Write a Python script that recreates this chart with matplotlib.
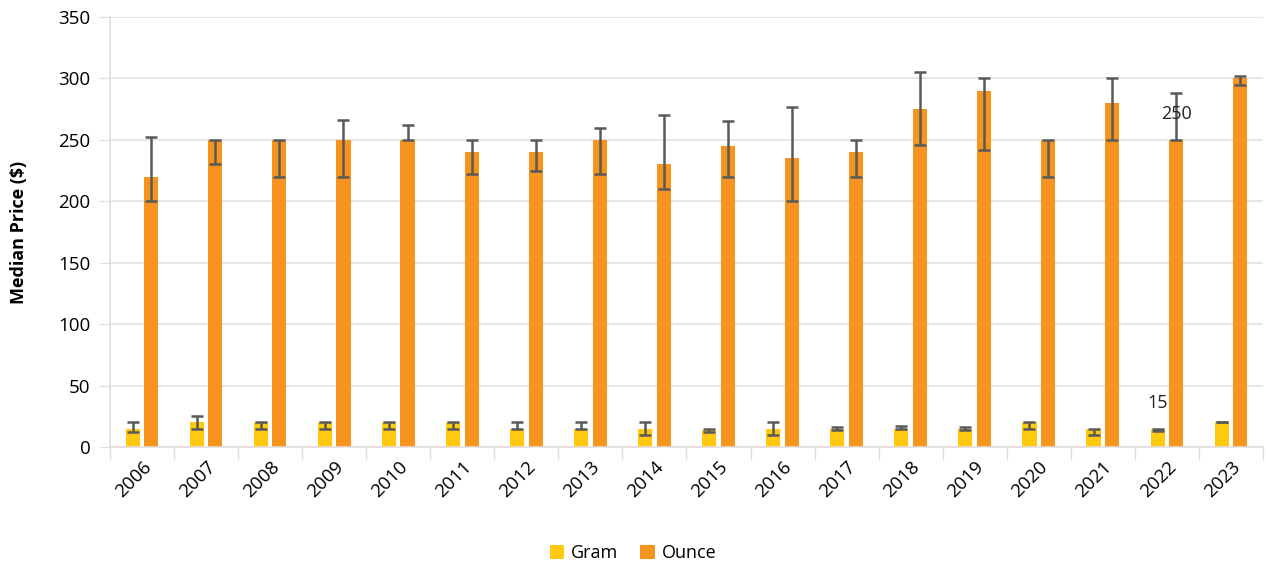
import matplotlib
matplotlib.use("Agg")
import matplotlib.pyplot as plt
import numpy as np

# Datos
anios = ["2006", "2007", "2008", "2009", "2010", "2011", "2012", "2013", "2014",
         "2015", "2016", "2017", "2018", "2019", "2020", "2021", "2022", "2023"]

gram = [15, 20, 20, 20, 20, 20, 15, 15, 15, 14, 15, 15, 15, 15, 20, 15, 15, 20]
gram_low = [12, 15, 15, 15, 15, 15, 15, 15, 10, 12, 10, 13.5, 15, 13.5, 15, 10, 13, 20]
gram_high = [20, 25, 20, 20, 20, 20, 20, 20, 20, 15, 20, 16, 17.5, 16, 20, 15, 15, 20.3]

ounce = [220, 250, 250, 250, 250, 240, 240, 250, 230, 245, 235, 240, 275, 290, 250, 280, 250, 300]
ounce_low = [200, 230, 220, 220, 250, 222, 225, 222, 210, 220, 200, 220, 246, 242, 220, 250, 250, 295]
ounce_high = [252, 250, 250, 266, 262, 250, 250, 260, 270, 265, 277, 250, 305, 300, 250, 300, 288, 302]

plt.rcParams['font.family'] = ['Open Sans', 'DejaVu Sans']

fig = plt.figure(figsize=(12.66, 5.66), dpi=100)
ax = fig.add_axes([0.0869, 0.2102, 0.9107, 0.7598])

x = np.arange(len(anios))
ancho = 0.22
desp = 0.145

gram = np.array(gram)
ounce = np.array(ounce)
err_g = [gram - np.array(gram_low), np.array(gram_high) - gram]
err_o = [ounce - np.array(ounce_low), np.array(ounce_high) - ounce]

ek = dict(ecolor="#595959", elinewidth=1.8, capsize=4.3, capthick=1.8)
ax.bar(x - desp, gram, ancho, color="#FFC90E", label="Gram", yerr=err_g,
       error_kw=ek, zorder=2)
ax.bar(x + desp, ounce, ancho, color="#F7941D", label="Ounce", yerr=err_o,
       error_kw=ek, zorder=2)

# etiquetas de 2022
i = anios.index("2022")
ax.annotate(str(ounce[i]), (x[i] + desp, ounce[i]), xytext=(0, 12),
            textcoords="offset points", ha="center", va="bottom", fontsize=13,
            color="#222222")
ax.annotate(str(gram[i]), (x[i] - desp, gram[i]), xytext=(0, 12),
            textcoords="offset points", ha="center", va="bottom", fontsize=13,
            color="#222222")

ax.set_xlim(-0.5, len(anios) - 0.5)
ax.set_ylim(0, 350)
ax.set_yticks(range(0, 351, 50))
ax.set_xticks(x)
ax.set_xticklabels(anios, rotation=45, ha="right", rotation_mode="anchor", fontsize=13.5)
ax.set_xticks(np.arange(-0.5, len(anios), 1), minor=True)
ax.tick_params(axis="x", which="major", length=0, pad=8)
ax.tick_params(axis="x", which="minor", length=9, color="#E3DCDC", width=1)
ax.tick_params(axis="y", length=8, color="#E3DCDC", labelsize=13.5, pad=6)

ax.grid(axis="y", color="#E6E0E0", linewidth=1.2, zorder=0)
ax.set_axisbelow(True)
for s in ["top", "right"]:
    ax.spines[s].set_visible(False)
for s in ["left", "bottom"]:
    ax.spines[s].set_color("#E3DCDC")
    ax.spines[s].set_linewidth(1.2)

ax.set_ylabel("Median Price ($)", fontsize=13, fontweight="bold", labelpad=22)

fig.legend(loc="lower center", bbox_to_anchor=(0.5, -0.022), ncol=2, frameon=False,
           fontsize=13, handlelength=0.8, handleheight=0.8, handletextpad=0.4,
           columnspacing=1.2)

fig.savefig("out.png", dpi=100)
